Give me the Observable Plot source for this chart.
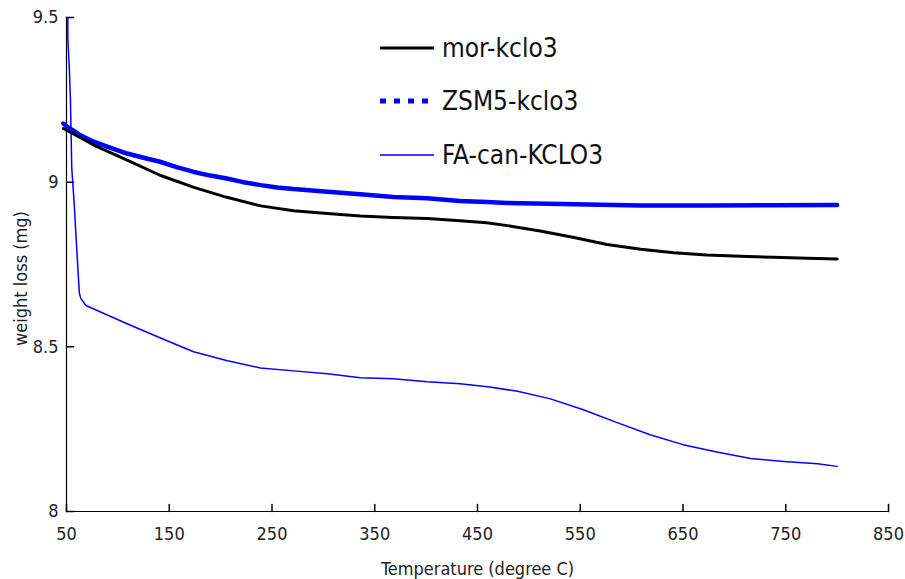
<!DOCTYPE html>
<html><head><meta charset="utf-8">
<script src="https://cdn.jsdelivr.net/npm/d3@7"></script>
<script src="https://cdn.jsdelivr.net/npm/@observablehq/plot@0.6"></script>
<style>
body{margin:0;background:#fff;}
#wrap{position:relative;width:905px;height:579px;font-family:"DejaVu Sans Condensed","Liberation Sans Narrow","Liberation Sans",sans-serif;font-stretch:condensed;}
#legend{position:absolute;left:378px;top:21px;font-size:26px;color:#111;}
.row{display:flex;align-items:center;height:53.5px;}
.row svg{margin-right:6px;}
</style></head>
<body><div id="wrap"><div id="chart"></div><div id="legend"></div></div>
<script>
const xTicks = [50,150,250,350,450,550,650,750,850];
const yTicks = [8,8.5,9,9.5];
const seriesNames = ["mor-kclo3","ZSM5-kclo3","FA-can-KCLO3"];
const xLabel = "Temperature (degree C)";
const yLabel = "weight loss (mg)";

const morT = [47,77,109,141,174,206,239,271,304,336,368,401,433,459,479,511,544,576,609,641,673,706,738,771,800];
const morW = [9.163,9.112,9.067,9.021,8.984,8.954,8.928,8.913,8.905,8.897,8.893,8.890,8.883,8.877,8.868,8.852,8.832,8.811,8.796,8.786,8.779,8.775,8.772,8.769,8.767];

const zsmT = [47,52,56,62,77,93,109,125,141,158,174,190,206,222,239,255,271,304,336,368,401,433,459,479,544,609,673,738,800];
const zsmW = [9.178,9.165,9.158,9.145,9.122,9.104,9.087,9.074,9.062,9.045,9.031,9.020,9.011,9.000,8.991,8.984,8.979,8.971,8.963,8.955,8.951,8.943,8.940,8.937,8.933,8.929,8.929,8.930,8.931];

const faT = [51.3,51.3,52.8,53.8,55.1,57.7,59.3,61,62.5,63.8,68.5,70,109,141.5,173.6,206.7,238.8,271,304,336,368,401,433,460,489,521,553,586,618,650,684,716,748,781,800];
const faW = [9.50,9.44,9.34,9.255,9.045,8.924,8.833,8.742,8.664,8.648,8.627,8.624,8.570,8.527,8.485,8.458,8.436,8.427,8.418,8.406,8.403,8.394,8.388,8.379,8.365,8.342,8.309,8.270,8.233,8.203,8.180,8.161,8.152,8.145,8.137];

const mor = morT.map((t,i)=>({t, w: morW[i]}));
const zsm = zsmT.map((t,i)=>({t, w: zsmW[i]}));
const fa = faT.map((t,i)=>({t, w: faW[i]}));

const tickShape = {draw(ctx, l){ ctx.moveTo(0,0); ctx.lineTo(0,-l); }};
const font = '"DejaVu Sans Condensed","Liberation Sans Narrow","Liberation Sans",sans-serif';

const chart = Plot.plot({
  width: 905, height: 579,
  marginLeft: 66, marginRight: 17, marginTop: 17, marginBottom: 68,
  style: {fontFamily: font, fontSize: "18px", color: "#222", background: "#fff"},
  x: {domain: [50, 850]},
  y: {domain: [8, 9.5]},
  marks: [
    Plot.axisX({ticks: xTicks, tickSize: 0, tickPadding: 16, tickFormat: d => String(d), label: xLabel, labelArrow: "none", labelAnchor: "center", labelOffset: 63, fontSize: 18}),
    Plot.axisY({ticks: yTicks, tickSize: 0, tickPadding: 8, tickFormat: d => String(d), label: null, fontSize: 18}),
    Plot.text([yLabel], {text: d => d, frameAnchor: "left", textAnchor: "middle", dx: -45, dy: 14, rotate: -90, fontSize: 18, fill: "#222"}),
    Plot.ruleX([50], {stroke: "#000", strokeWidth: 1.2}),
    Plot.ruleY([8], {stroke: "#000", strokeWidth: 1.2}),
    Plot.vector(xTicks, {x: d => d, y: 8, length: 7, anchor: "start", shape: tickShape, stroke: "#000"}),
    Plot.vector(yTicks, {x: 50, y: d => d, length: 7, rotate: 90, anchor: "start", shape: tickShape, stroke: "#000"}),
    Plot.line(fa, {x: "t", y: "w", stroke: "#0000ff", strokeWidth: 1.5}),
    Plot.line(zsm, {x: "t", y: "w", stroke: "#0000ff", strokeWidth: 4.5}),
    Plot.line(mor, {x: "t", y: "w", stroke: "#000", strokeWidth: 3})
  ]
});
document.getElementById("chart").appendChild(chart);

const legendStyles = [
  {stroke: "#000", width: 3, dash: null},
  {stroke: "#0000ff", width: 5, dash: "6,8"},
  {stroke: "#0000ff", width: 1.5, dash: null}
];
const legend = document.getElementById("legend");
seriesNames.forEach((name, i) => {
  const s = legendStyles[i];
  const row = document.createElement("div");
  row.className = "row";
  row.innerHTML = `<svg width="58" height="10"><line x1="2" x2="56" y1="5" y2="5" stroke="${s.stroke}" stroke-width="${s.width}" ${s.dash ? `stroke-dasharray="${s.dash}"` : ""}/></svg><span>${name}</span>`;
  legend.appendChild(row);
});
</script>
</body></html>
